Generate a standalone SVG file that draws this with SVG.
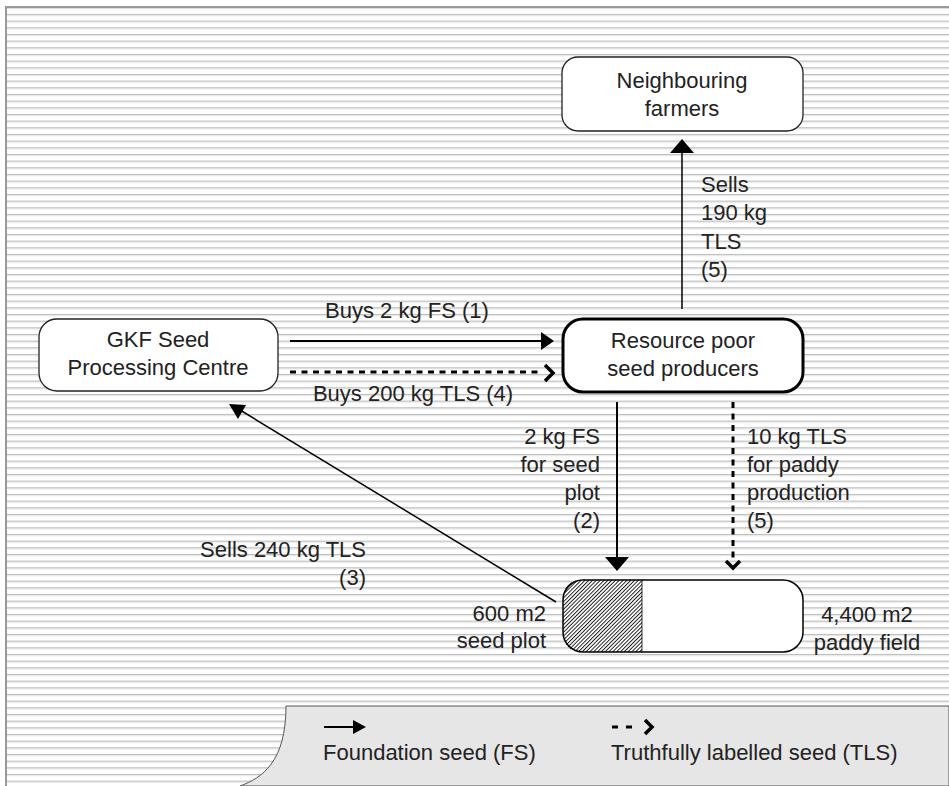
<svg xmlns="http://www.w3.org/2000/svg" width="949" height="786" viewBox="0 0 949 786">
<style>
text{font-family:"Liberation Sans",Arial,sans-serif;font-size:22px;fill:#222}
.m{text-anchor:middle}.e{text-anchor:end}
.node{fill:#fff;stroke:#222;stroke-width:1.3}
.thick{stroke:#000;stroke-width:3}
.sol{stroke:#000;stroke-width:2;fill:none}
.dash{stroke:#000;stroke-width:3;stroke-dasharray:6 5.5;fill:none}
.chev{stroke:#000;stroke-width:3.5;fill:none;stroke-linejoin:miter}
.head{fill:#000}
</style>
<defs>
<pattern id="bg" width="20" height="6.667" patternUnits="userSpaceOnUse" y="0.6">
<rect width="20" height="1" fill="#bdbdbd"/>
<rect y="1" width="20" height="1.2" fill="#e6e6e6"/>
</pattern>
<pattern id="hatch" width="2.7" height="10" patternUnits="userSpaceOnUse" patternTransform="rotate(45)">
<line x1="0.5" y1="0" x2="0.5" y2="10" stroke="#000" stroke-width="0.9"/>
</pattern>
<clipPath id="plotclip"><path d="M642 580 L583 580 Q563 580 563 600 L563 632 Q563 652 583 652 L642 652 Z"/></clipPath>
</defs>
<rect width="949" height="786" fill="#fff"/>
<rect x="7" y="8" width="942" height="778" fill="url(#bg)"/>
<line x1="5" y1="7" x2="949" y2="7" stroke="#999" stroke-width="2"/>
<line x1="6" y1="6" x2="6" y2="786" stroke="#999" stroke-width="2"/>
<g id="legend">
<path d="M286 706 L949 706 L949 786 L240 786 C262 778 286 762 286 706 Z" fill="#e6e6e6" stroke="#555" stroke-width="1"/>
<line x1="324" y1="727" x2="354" y2="727" class="sol"/>
<polygon points="353,720 366,727 353,734" class="head"/>
<line x1="612" y1="727" x2="632" y2="727" stroke="#000" stroke-width="3" stroke-dasharray="6 8"/>
<polyline points="645,720 652,727 645,734" class="chev"/>
<text x="323" y="760">Foundation seed (FS)</text>
<text x="611" y="760">Truthfully labelled seed (TLS)</text>
</g>
<g id="connectors">
<line x1="682" y1="309" x2="682" y2="152" stroke="#000" stroke-width="1.5"/>
<polygon points="670,153 682,139 694,153" class="head"/>
<line x1="290" y1="341" x2="542" y2="341" class="sol"/>
<polygon points="541,332 554,341 541,350" class="head"/>
<line x1="290" y1="372" x2="543" y2="372" class="dash"/>
<polyline points="545,365 553,373 545,381" class="chev"/>
<line x1="617" y1="402" x2="617" y2="558" class="sol"/>
<polygon points="605,557 617,571 629,557" class="head"/>
<line x1="733" y1="402" x2="733" y2="563" class="dash"/>
<polyline points="726,561 733,568 740,561" class="chev"/>
<line x1="556" y1="602" x2="240" y2="410" stroke="#000" stroke-width="1.5"/>
<polygon points="229,404 246,405 238,419" class="head"/>
<text x="407" y="318" class="m">Buys 2 kg FS (1)</text>
<text x="413" y="401" class="m">Buys 200 kg TLS (4)</text>
<text x="701" y="192">Sells</text>
<text x="701" y="220">190 kg</text>
<text x="701" y="249">TLS</text>
<text x="701" y="277">(5)</text>
<text x="600" y="444" class="e">2 kg FS</text>
<text x="600" y="472" class="e">for seed</text>
<text x="600" y="500" class="e">plot</text>
<text x="600" y="528" class="e">(2)</text>
<text x="747" y="444">10 kg TLS</text>
<text x="747" y="472">for paddy</text>
<text x="747" y="500">production</text>
<text x="747" y="528">(5)</text>
<text x="366" y="557" class="e">Sells 240 kg TLS</text>
<text x="366" y="585" class="e">(3)</text>
</g>
<g id="neighbouring">
<rect x="562" y="57" width="241" height="74" rx="16" class="node"/>
<text x="682" y="88" class="m">Neighbouring</text>
<text x="682" y="116" class="m">farmers</text>
</g>
<g id="gkf">
<rect x="39" y="319" width="239" height="72" rx="18" class="node"/>
<text x="158" y="347" class="m">GKF Seed</text>
<text x="158" y="375" class="m">Processing Centre</text>
</g>
<g id="producers">
<rect x="563" y="319" width="240" height="73" rx="20" class="node thick"/>
<text x="683" y="348" class="m">Resource poor</text>
<text x="683" y="376" class="m">seed producers</text>
</g>
<g id="field">
<rect x="563" y="580" width="240" height="72" rx="20" fill="#fff"/>
<rect x="563" y="580" width="79" height="72" fill="url(#hatch)" clip-path="url(#plotclip)"/>
<line x1="642" y1="580" x2="642" y2="652" stroke="#000" stroke-width="0.8"/>
<rect x="563" y="580" width="240" height="72" rx="20" fill="none" stroke="#000" stroke-width="1.5"/>
<text x="546" y="621" class="e">600 m2</text>
<text x="546" y="648" class="e">seed plot</text>
<text x="867" y="622" class="m">4,400 m2</text>
<text x="867" y="650" class="m">paddy field</text>
</g>
</svg>
